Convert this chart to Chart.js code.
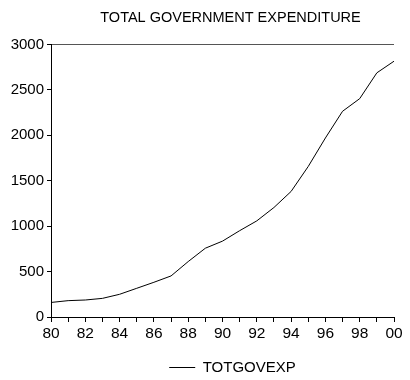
<!DOCTYPE html>
<html>
<head>
<meta charset="utf-8">
<script src="https://cdn.jsdelivr.net/npm/chart.js@4"></script>
<style>
  html, body { margin: 0; padding: 0; background: #fff; }
  #wrap { width: 410px; height: 380px; }
</style>
</head>
<body>
<div id="wrap"><canvas id="chart"></canvas></div>
<script>
// Data (1980-2000)
const years = [1980, 1981, 1982, 1983, 1984, 1985, 1986, 1987, 1988, 1989, 1990,
               1991, 1992, 1993, 1994, 1995, 1996, 1997, 1998, 1999, 2000];
const totgovexp = [160, 180, 187, 205, 250, 316, 382, 452, 610, 757, 835,
                   950, 1058, 1205, 1382, 1657, 1970, 2264, 2403, 2687, 2815];
const yTicks = [0, 500, 1000, 1500, 2000, 2500, 3000];

const font = "'Liberation Sans', Arial, sans-serif";

// center title and legend over the plot area, like the original
const centerBlocks = {
  id: 'centerBlocks',
  afterLayout(chart) {
    const a = chart.chartArea;
    if (chart.titleBlock) {
      chart.titleBlock.left = a.left + 16;
      chart.titleBlock.right = a.right;
    }
    if (chart.legend) {
      chart.legend.left = a.left + 20;
      chart.legend.right = a.right;
      chart.legend.top = a.bottom + 35;
    }
  }
};

new Chart(document.getElementById("chart"), {
  type: 'line',
  data: {
    datasets: [{
      label: 'TOTGOVEXP',
      data: years.map((y, i) => ({ x: y, y: totgovexp[i] })),
      borderColor: '#000',
      borderWidth: 1,
      pointRadius: 0,
      tension: 0
    }]
  },
  plugins: [centerBlocks],
  options: {
    responsive: true,
    maintainAspectRatio: false,
    animation: false,
    layout: { padding: { left: 0, right: 16, top: 0, bottom: 0 } },
    plugins: {
      title: {
        display: true,
        text: 'TOTAL GOVERNMENT EXPENDITURE',
        color: '#000',
        font: { family: font, size: 14.5, weight: 'normal' },
        padding: { top: 9, bottom: 18 }
      },
      legend: {
        position: 'bottom',
        labels: {
          color: '#000',
          font: { family: font, size: 15 },
          usePointStyle: true,
          pointStyle: 'line',
          pointStyleWidth: 26,
          boxWidth: 26,
          padding: 8
        }
      },
      tooltip: { enabled: false }
    },
    scales: {
      x: {
        type: 'linear',
        min: 1980,
        max: 2000,
        afterBuildTicks: s => { s.ticks = years.map(v => ({ value: v })); },
        ticks: {
          color: '#000',
          font: { family: font, size: 15.5 },
          autoSkip: false,
          maxRotation: 0,
          padding: 2,
          callback: v => (v % 2 === 0 ? String(v).slice(2) : '')
        },
        grid: { drawOnChartArea: false, tickLength: 5, tickColor: '#000' },
        border: { color: '#000', width: 1 },
        afterFit: s => { s.height = 30; }
      },
      y: {
        min: 0,
        max: 3000,
        afterBuildTicks: s => { s.ticks = yTicks.map(v => ({ value: v })); },
        ticks: {
          color: '#000',
          font: { family: font, size: 15 },
          padding: 3,
          callback: v => String(v)
        },
        grid: {
          tickLength: 4,
          tickColor: '#000',
          color: c => (c.tick && c.tick.value === 3000 ? '#555' : 'rgba(0,0,0,0)')
        },
        border: { color: '#000', width: 1 },
        afterFit: s => { s.width = 51; }
      }
    }
  }
});
</script>
</body>
</html>
